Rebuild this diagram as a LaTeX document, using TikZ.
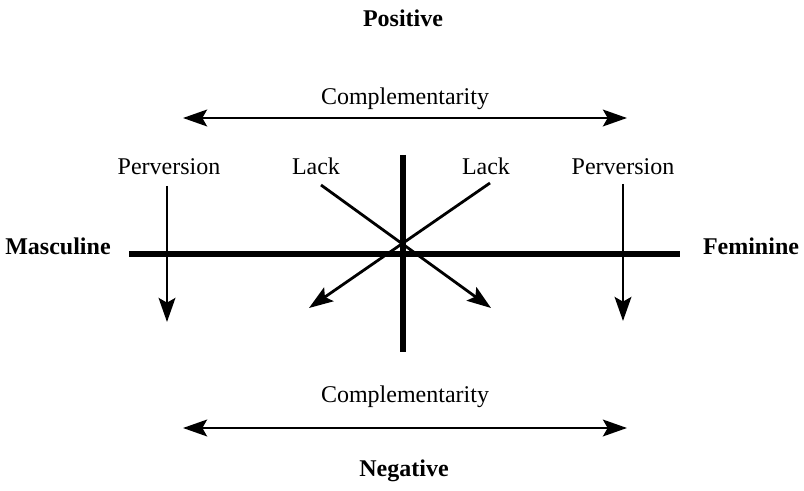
\documentclass[tikz,border=0pt]{standalone}
\usepackage{fontspec}
\setmainfont{Liberation Serif}
\usetikzlibrary{arrows.meta}
\begin{document}
\begin{tikzpicture}[x=0.75pt,y=-0.75pt,
  lbl/.style={font=\fontsize{18}{20}\selectfont, anchor=base, inner sep=0pt},
  blbl/.style={lbl, font=\fontsize{18}{20}\selectfont\bfseries},
  axis/.style={line width=3.9pt},
  thinarrow/.style={line width=2.1pt, -{Stealth[length=18pt,width=12.5pt,inset=3.5pt]}},
  biarrow/.style={line width=2.1pt, {Stealth[length=18pt,width=12.5pt,inset=3.5pt]}-{Stealth[length=18pt,width=12.5pt,inset=3.5pt]}}]
\useasboundingbox (0,0) rectangle (804,491);
% labels
\node[blbl] (pos) at (403,27) {Positive};
\node[lbl] (comptop) at (405,105) {Complementarity};
\node[lbl] (perl) at (169,175) {Perversion};
\node[lbl] (perr) at (623,175) {Perversion};
\node[lbl] (lackl) at (316,175) {Lack};
\node[lbl] (lackr) at (486,175) {Lack};
\node[blbl] (masc) at (58,255) {Masculine};
\node[blbl] (fem) at (751,255) {Feminine};
\node[lbl] (compbot) at (405,403) {Complementarity};
\node[blbl] (neg) at (404,477) {Negative};
% coordinates
\coordinate (tl) at (183,118);
\coordinate (tr) at (627,118);
\coordinate (bl) at (183,428);
\coordinate (br) at (627,428);
\coordinate (hl) at (129,254);
\coordinate (hr) at (680,254);
\coordinate (vt) at (403,155);
\coordinate (vb) at (403,352);
\coordinate (pls) at (167,186);
\coordinate (ple) at (167,322);
\coordinate (prs) at (623,184);
\coordinate (pre) at (623,321);
\coordinate (l1s) at (321,185);
\coordinate (l1e) at (491,308);
\coordinate (l2s) at (490,183);
\coordinate (l2e) at (309,308);
% axes
\draw[axis] (hl) -- (hr);
\draw[axis] (vt) -- (vb);
% arrows
\draw[biarrow] (tl) -- (tr);
\draw[biarrow] (bl) -- (br);
\draw[thinarrow] (pls) -- (ple);
\draw[thinarrow] (prs) -- (pre);
\draw[thinarrow] (l1s) -- (l1e);
\draw[thinarrow] (l2s) -- (l2e);
\end{tikzpicture}
\end{document}
